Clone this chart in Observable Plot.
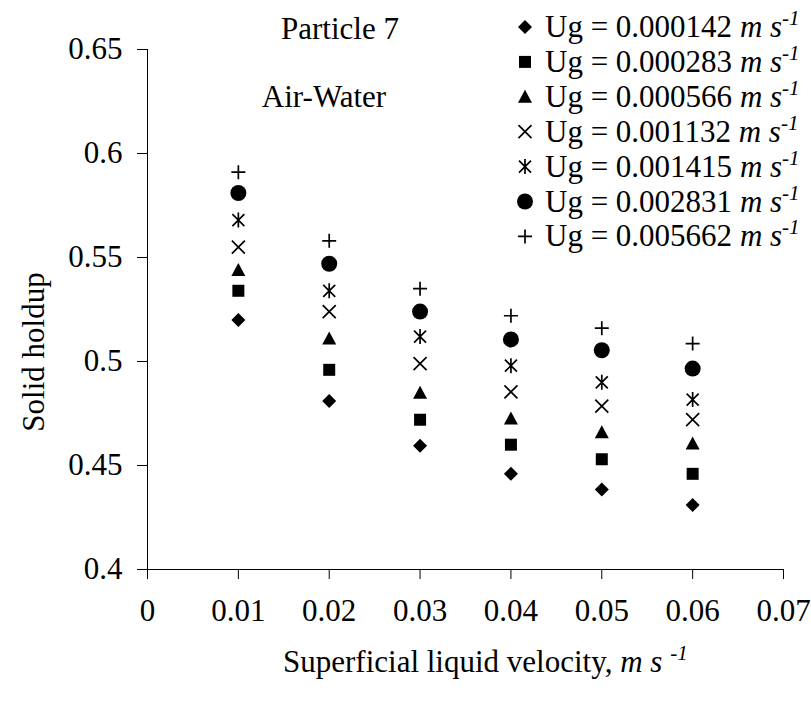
<!DOCTYPE html>
<html>
<head>
<meta charset="utf-8">
<script src="https://cdn.jsdelivr.net/npm/d3@7"></script>
<script src="https://cdn.jsdelivr.net/npm/@observablehq/plot@0.6"></script>
<style>
  body { margin: 0; background: #fff; }
  #chart { width: 811px; height: 702px; }
</style>
</head>
<body>
<div id="chart"></div>
<script>
// ---- data ----
const velocity = [0.01, 0.02, 0.03, 0.04, 0.05, 0.06];
const ugLabels = ["0.000142", "0.000283", "0.000566", "0.001132", "0.001415", "0.002831", "0.005662"];
const holdup_000142 = [0.520, 0.481, 0.4595, 0.446, 0.4385, 0.431];
const holdup_000283 = [0.534, 0.496, 0.472, 0.460, 0.453, 0.446];
const holdup_000566 = [0.544, 0.511, 0.485, 0.4726, 0.466, 0.4606];
const holdup_001132 = [0.555, 0.524, 0.499, 0.4854, 0.4785, 0.4721];
const holdup_001415 = [0.568, 0.534, 0.512, 0.498, 0.490, 0.4817];
const holdup_002831 = [0.581, 0.547, 0.524, 0.5106, 0.5054, 0.4966];
const holdup_005662 = [0.591, 0.558, 0.535, 0.522, 0.516, 0.5086];
const xTicks = [0, 0.01, 0.02, 0.03, 0.04, 0.05, 0.06, 0.07];
const yTicks = [0.4, 0.45, 0.5, 0.55, 0.6, 0.65];

const seriesValues = [holdup_000142, holdup_000283, holdup_000566, holdup_001132, holdup_001415, holdup_002831, holdup_005662];

// ---- symbols ----
const symDiamond = { draw(c) { const s = 7; c.moveTo(0, -s); c.lineTo(s, 0); c.lineTo(0, s); c.lineTo(-s, 0); c.closePath(); } };
const symSquare = { draw(c) { const s = 6; c.moveTo(-s, -s); c.lineTo(s, -s); c.lineTo(s, s); c.lineTo(-s, s); c.closePath(); } };
const symTriangle = { draw(c) { c.moveTo(0, -7); c.lineTo(7, 6); c.lineTo(-7, 6); c.closePath(); } };
const symTimes = { draw(c) { const s = 6.5; c.moveTo(-s, -s); c.lineTo(s, s); c.moveTo(-s, s); c.lineTo(s, -s); } };
const symAsterisk = { draw(c) { const s = 6; c.moveTo(-s, -s); c.lineTo(s, s); c.moveTo(-s, s); c.lineTo(s, -s); c.moveTo(0, -7.5); c.lineTo(0, 7.5); } };
const symCircle = { draw(c) { c.moveTo(8, 0); c.arc(0, 0, 8, 0, 2 * Math.PI); c.closePath(); } };
const symPlus = { draw(c) { const s = 7; c.moveTo(-s, 0); c.lineTo(s, 0); c.moveTo(0, -s); c.lineTo(0, s); } };

const seriesSymbols = [symDiamond, symSquare, symTriangle, symTimes, symAsterisk, symCircle, symPlus];
const seriesFilled = [true, true, true, false, false, true, false];

const tables = seriesValues.map((vals, i) => velocity.map((v, j) => ({ x: v, y: vals[j], ug: ugLabels[i] })));

const dotMarks = tables.map((t, i) => seriesFilled[i]
  ? Plot.dot(t, { x: "x", y: "y", r: 5, symbol: seriesSymbols[i], fill: "black", stroke: "none" })
  : Plot.dot(t, { x: "x", y: "y", r: 5, symbol: seriesSymbols[i], fill: "none", stroke: "black", strokeWidth: 1.7 }));

const fmt = d => String(+(+d).toFixed(2));
const FONT = "'Liberation Serif', 'Times New Roman', serif";
const FS = 31;

const plot = Plot.plot({
  width: 811,
  height: 702,
  marginLeft: 147,
  marginRight: 28,
  marginTop: 49,
  marginBottom: 133,
  style: { fontFamily: FONT, fontSize: FS + "px", color: "black", background: "white" },
  x: { domain: [0, 0.07] },
  y: { domain: [0.4, 0.65] },
  marks: [
    Plot.axisX({ ticks: xTicks, tickSize: 10, tickPadding: 19, tickFormat: fmt, label: null, stroke: "black", fill: "black" }),
    Plot.axisY({ ticks: yTicks, tickSize: 10, tickPadding: 15, tickFormat: fmt, label: null, stroke: "black", fill: "black" }),
    Plot.ruleX([0], { stroke: "black" }),
    Plot.ruleY([0.4], { stroke: "black" }),
    ...dotMarks
  ]
});

document.getElementById("chart").appendChild(plot);

// ---- annotations, titles, legend ----
const svg = d3.select(plot);

function addText(x, y, str, opts = {}) {
  return svg.append("text").attr("x", x).attr("y", y)
    .attr("font-family", FONT).attr("font-size", opts.size || FS)
    .attr("text-anchor", opts.anchor || "start").attr("fill", "black").text(str);
}

addText(340, 39, "Particle 7", { anchor: "middle" });
addText(324, 107, "Air-Water", { anchor: "middle" });

// y-axis title
svg.append("text")
  .attr("transform", "translate(44,352) rotate(-90)")
  .attr("font-family", FONT).attr("font-size", FS).attr("text-anchor", "middle").attr("fill", "black")
  .text("Solid holdup");

// x-axis title
const xt = svg.append("text").attr("x", 283).attr("y", 672).attr("text-anchor", "start")
  .attr("font-family", FONT).attr("font-size", FS).attr("fill", "black");
xt.append("tspan").text("Superficial liquid velocity, ");
xt.append("tspan").attr("font-style", "italic").text("m s ");
xt.append("tspan").attr("font-style", "italic").attr("font-size", 21).attr("dy", -12).text("-1");

// legend
const legY0 = 27, legDY = 34.9;
ugLabels.forEach((lab, i) => {
  const cy = legY0 + i * legDY;
  const gen = d3.symbol().type(seriesSymbols[i]);
  const p = svg.append("path").attr("transform", `translate(525,${cy})`).attr("d", gen());
  if (seriesFilled[i]) p.attr("fill", "black");
  else p.attr("fill", "none").attr("stroke", "black").attr("stroke-width", 1.7);
  const t = svg.append("text").attr("x", 545).attr("y", cy + 10).attr("text-anchor", "start")
    .attr("font-family", FONT).attr("font-size", FS).attr("fill", "black");
  t.append("tspan").text(`Ug = ${lab} `);
  t.append("tspan").attr("font-style", "italic").text("m s");
  t.append("tspan").attr("font-style", "italic").attr("font-size", 21).attr("dy", -12).text("-1");
});
</script>
</body>
</html>
